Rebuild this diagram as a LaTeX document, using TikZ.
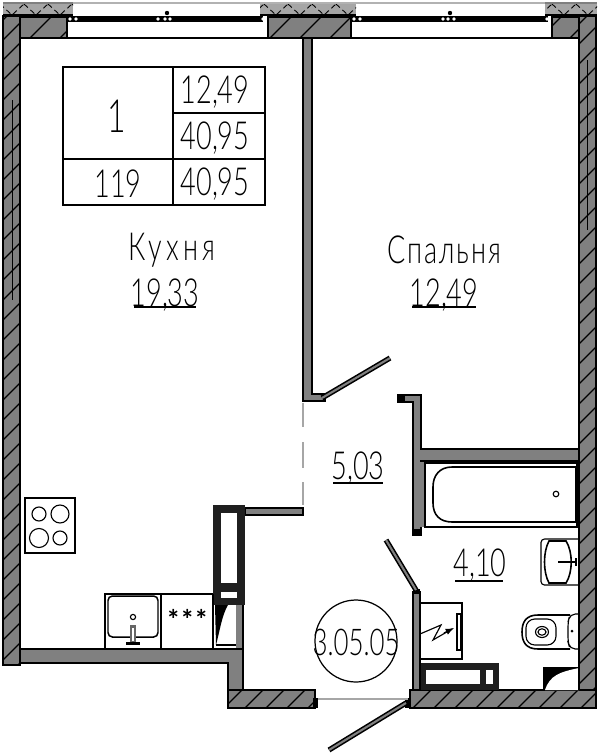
\documentclass[tikz,border=0pt]{standalone}
\usepackage{fontspec}
\setmainfont[FakeStretch=0.7,UprightFont=* Light]{Lato}
\newfontfamily\starfont{Carlito}
\definecolor{wallgray}{gray}{0.5}
\tikzset{
  wall/.style={draw=black,fill=wallgray,line width=1.2pt,line join=miter},
  thinwall/.style={draw=black,fill=wallgray,line width=0.9pt},
  fixture/.style={draw=black,line width=0.65pt},
  hatchline/.style={black,line width=0.7pt},
  leaf/.style={draw=black,line width=3pt,line cap=butt},
  bigtext/.style={inner sep=0pt,font=\fontsize{22}{22}\selectfont},
  tablerule/.style={black,line width=0.7pt},
}
% rectangle with slanted hatching, corners in pixels
\newcommand{\hatchbox}[6]{
  \begin{scope}
    \clip (#1,#2) rectangle (#3,#4);
    \fill[wallgray] (#1,#2) rectangle (#3,#4);
    \foreach \hn in {0,...,80} {
      \draw[hatchline,xshift={(\hn*#6-800+#5)*0.02cm}] (0,800) -- (800,0);
    }
  \end{scope}
  \draw[black,line width=1.2pt] (#1,#2) rectangle (#3,#4);
}
\begin{document}
\begin{tikzpicture}[x=0.02cm,y=-0.02cm]
\useasboundingbox (0,0) rectangle (600,755);
\fill[white] (0,0) rectangle (600,755);

% top strip outside the windows
\foreach \xa/\xb in {3/73,260/356,545/597} {
  \fill[wallgray!70!white] (\xa,4) rectangle (\xb,15);
  \begin{scope}
    \clip (\xa,4) rectangle (\xb,15);
    \foreach \hx in {0,24,...,600} {
      \draw[black,line width=0.5pt,densely dashed] (\hx,4) -- (\hx+12,15) -- (\hx+24,4);
    }
  \end{scope}
  \draw[gray,line width=0.8pt] (\xa,3) -- (\xb,3);
  \draw[black,line width=1pt] (\xa,15) -- (\xb,15);
}
\draw[gray!60,line width=0.8pt] (73,3) -- (545,3);

% window frames
\draw[black,line width=3.2pt] (68,19) -- (263,19);
\draw[black,line width=3.2pt] (352,19) -- (548,19);
\foreach \px in {70,76,158,165,170,263,354,360,443,448,454,547} {
  \fill[white] (\px,19) circle [radius=1.8];
}
\fill[black] (167,13) circle [radius=2.2];
\fill[black] (450,13) circle [radius=2.2];
\draw[black,line width=0.9pt] (67,38) -- (268,38);
\draw[black,line width=0.9pt] (351,38) -- (552,38);

% outer walls
\hatchbox{3}{16}{20}{665}{3}{20}
\hatchbox{579}{16}{596}{708}{3}{20}
\hatchbox{20}{17}{67}{38}{8}{30}
\hatchbox{268}{17}{351}{38}{8}{30}
\hatchbox{552}{17}{579}{38}{8}{30}
\hatchbox{228}{690}{315}{708}{8}{21}
\hatchbox{410}{690}{596}{708}{8}{21}
\draw[black,line width=0.4pt] (587,60) -- (587,230);
\draw[black,line width=0.4pt] (12,100) -- (12,300);

% kitchen wall with the step
\draw[wall] (20,649) -- (243,649) -- (243,690) -- (228,690) -- (228,663) -- (20,663) -- cycle;
\fill[black] (313,698) rectangle (318,708);
\fill[black] (405,698) rectangle (411,708);

% partitions
\draw[thinwall] (303,38) -- (312,38) -- (312,394) -- (325,394) -- (325,401) -- (303,401) -- cycle;
\fill[wallgray] (413,461) rectangle (425,527);
\draw[thinwall] (398,395) -- (421,395) -- (421,449) -- (579,449) -- (579,461) -- (421,461) -- (421,461) -- (413,461) -- (413,402) -- (398,402) -- cycle;
\fill[wallgray] (414,455) rectangle (420,466);
\draw[black,line width=0.9pt] (413,461) -- (413,535) -- (421,535) -- (421,527);
\fill[wallgray] (414,527) rectangle (420,530);
\fill[black] (398,396) rectangle (405,402);
\fill[black] (413,529) rectangle (421,535);
\draw[thinwall] (413,592) rectangle (420,690);
\fill[black] (413,589) rectangle (420,594);
\draw[thinwall] (245,508) rectangle (303,515);
\draw[gray!70,line width=0.8pt] (303,403) -- (303,427);
\draw[gray!70,line width=0.8pt] (303,442) -- (303,468);
\draw[gray!70,line width=0.8pt] (303,482) -- (303,505);

% doors
\draw[leaf] (322,398) -- (390,358);
\draw[wallgray,line width=1.2pt] (322,398) -- (390,358);
\draw[leaf] (416,590) -- (386,540);
\draw[wallgray,line width=1.2pt] (416,590) -- (386,540);
\draw[leaf] (406,703) -- (329,750);
\draw[wallgray,line width=1.2pt] (406,703) -- (329,750);
\draw[gray!70,line width=0.8pt] (318,699) -- (408,699);

% shafts
\fill[black!88] (213,505) rectangle (245,605);
\fill[white] (221,513) rectangle (237,583);
\fill[white] (221,592) rectangle (237,598);
\fill[wallgray] (236,605) rectangle (243,648);
\draw[black,line width=0.6pt] (243,605) -- (243,648);
\fill[black] (215,605) -- (228,605) .. controls (222,615) and (220,630) .. (216,645) -- cycle;
\draw[fixture] (216,645) -- (236,645);
\fill[black!88] (421,663) rectangle (499,690);
\fill[white] (426,670) rectangle (480,684);
\fill[white] (486,670) rectangle (493,684);
\fill[black] (543,667) rectangle (579,690);
\fill[white] (545,690) .. controls (550,675) and (560,672) .. (579,668) -- (579,690) -- cycle;
\draw[black,line width=0.9pt] (579,667) -- (579,690);

% electric cabinet
\draw[fixture,line width=0.9pt] (420,603) -- (462,603) -- (462,659) -- (420,659);
\draw[fixture] (457,614) rectangle (461,650);
\draw[fixture] (420,634) -- (441,625) -- (433,640) -- (452,629);
\draw[fixture,-latex] (444,633) -- (454,628);

% bath
\draw[fixture] (425,463) rectangle (577,527);
\draw[fixture,line width=0.9pt] (576,467) -- (452,467) .. controls (440,467) and (433,475) .. (433,487) -- (433,503) .. controls (433,515) and (440,522) .. (452,522) -- (576,522) -- cycle;
\draw[fixture] (556,494) circle [radius=2.8];

% bathroom sink and toilet
\draw[fixture,rounded corners=2pt] (579,539) -- (541,539) -- (541,585) -- (579,585);
\draw[fixture,line width=0.9pt] (549,541) .. controls (543,552) and (543,572) .. (549,583) -- (566,583) .. controls (573,572) and (573,552) .. (566,541) -- cycle;
\draw[black,line width=1.2pt] (558,562) -- (576,562);
\draw[black,line width=1.4pt] (576,558) -- (576,566);
\draw[fixture,rounded corners=3pt] (579,614) -- (570,614) -- (568,622) -- (568,642) -- (570,649) -- (579,649);
\draw[fixture,line width=0.9pt] (570,615) -- (538,615) .. controls (526,615) and (522,622) .. (522,632) .. controls (522,642) and (526,649) .. (538,649) -- (570,649);
\draw[fixture,rounded corners=5pt] (556,619) -- (526,619) -- (526,645) -- (556,645) -- cycle;
\draw[fixture] (542,632) ellipse [x radius=6.5,y radius=5.5];
\draw[fixture] (542,632) ellipse [x radius=4,y radius=3.2];
\fill[black] (572,631) circle [radius=1.5];

% stove
\draw[fixture] (25,498) -- (75,498) -- (75,553) -- (25,553) -- cycle;
\draw[fixture] (39,514) circle [radius=7];
\draw[fixture] (60,514) circle [radius=9];
\draw[fixture] (39,538) circle [radius=9.5];
\draw[fixture] (60,538) circle [radius=7];

% kitchen sink and worktop
\draw[fixture] (105,648) -- (105,594) -- (213,594);
\draw[fixture] (161,594) -- (161,648);
\draw[fixture] (213,594) -- (213,648);
\draw[fixture,rounded corners=2.5pt,line width=0.85pt] (108,596) -- (158,596) -- (158,637) -- (108,637) -- cycle;
\draw[fixture] (133,617) circle [radius=2.6];
\fill[black!60] (130,625) rectangle (136,643);
\fill[white] (132,628) rectangle (134,641);
\fill[black] (126,642) rectangle (140,645);
\node (stars) [inner sep=0pt,font=\starfont\bfseries\fontsize{16}{16}\selectfont] at (187.5,619) {***};

% area table
\draw[tablerule] (63,67) rectangle (265,205);
\draw[tablerule] (173,67) -- (173,205);
\draw[tablerule] (173,113) -- (265,113);
\draw[tablerule] (63,159) -- (265,159);
\node (tablenum) [bigtext,font=\fontsize{26}{26}\selectfont] at (117,116) {1};
\node (tablelive) [bigtext] at (215,92) {12,49};
\node (tabletotal) [bigtext] at (215,138) {40,95};
\node (tableflat) [bigtext] at (118,184) {119};
\node (tablesum) [bigtext] at (215,184) {40,95};

% room labels
\node (kitchen) [bigtext,font=\fontsize{22}{22}\selectfont\addfontfeature{LetterSpace=11}] at (172,250) {Кухня};
\node (kitchenarea) [bigtext] at (165,295) {19,33};
\draw[tablerule] (134,307) -- (196,307);
\node (bedroom) [bigtext,font=\fontsize{22}{22}\selectfont\addfontfeature{LetterSpace=5}] at (444,250) {Спальня};
\node (bedroomarea) [bigtext] at (444,295) {12,49};
\draw[tablerule] (412,307) -- (476,307);
\node (hallarea) [bigtext] at (358,468) {5,03};
\draw[tablerule] (333,483) -- (383,483);
\node (bathroomarea) [bigtext] at (480,565) {4,10};
\draw[tablerule] (455,581) -- (503,581);

% plan number
\draw[black,line width=0.7pt] (356,641) circle [radius=41];
\node (plannum) [bigtext,font=\fontsize{21}{21}\selectfont] at (356,642) {3.05.05};
\end{tikzpicture}
\end{document}
